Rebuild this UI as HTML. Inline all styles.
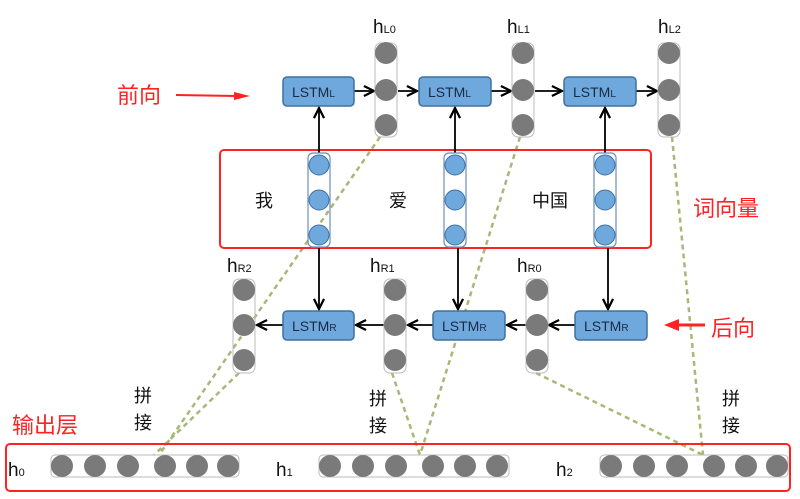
<!DOCTYPE html>
<html><head><meta charset="utf-8"><style>body{margin:0;background:#fff}svg{display:block}text{font-family:"Liberation Sans","Noto Sans CJK SC",sans-serif}</style></head><body>
<svg width="800" height="499" viewBox="0 0 800 499" xmlns="http://www.w3.org/2000/svg">
<defs>
<marker id="ar" viewBox="0 0 10 10" refX="9" refY="5" markerWidth="7" markerHeight="7" orient="auto"><path d="M1,1 L9,5 L1,9" fill="none" stroke="#000" stroke-width="1.8"/></marker>
</defs>
<g stroke="#a8b878" stroke-width="2.5" stroke-dasharray="5,4" fill="none">
<line x1="380" y1="137" x2="159" y2="455"/><line x1="239" y1="373" x2="154" y2="455"/>
<line x1="520" y1="137" x2="420" y2="455"/><line x1="392" y1="373" x2="420" y2="455"/>
<line x1="672" y1="137" x2="703" y2="455"/><line x1="536" y1="373" x2="703" y2="455"/>
</g>
<rect x="220" y="150" width="431" height="98" rx="4" fill="none" stroke="#f22" stroke-width="2"/>
<rect x="6" y="444" width="784" height="47" rx="4" fill="none" stroke="#f22" stroke-width="2"/>
<g stroke="#000" stroke-width="1.8" marker-end="url(#ar)">
<line x1="319" y1="153" x2="319" y2="108"/><line x1="455" y1="153" x2="455" y2="108"/><line x1="605" y1="153" x2="605" y2="108"/>
<line x1="319" y1="248" x2="319" y2="309"/><line x1="458" y1="248" x2="458" y2="309"/><line x1="608" y1="248" x2="608" y2="309"/>
<line x1="354" y1="91" x2="374" y2="91"/><line x1="398" y1="91" x2="417" y2="91"/><line x1="491" y1="91" x2="511" y2="91"/><line x1="535" y1="91" x2="562" y2="91"/><line x1="636" y1="91" x2="657" y2="91"/>
<line x1="575" y1="325" x2="549" y2="325"/><line x1="526" y1="325" x2="507" y2="325"/><line x1="433" y1="325" x2="408" y2="325"/><line x1="384" y1="325" x2="356" y2="325"/><line x1="283" y1="325" x2="257" y2="325"/>
</g>
<g fill="#6fa8dc" stroke="#41719c" stroke-width="1.5">
<rect x="283" y="77" width="71" height="29" rx="4"/><rect x="419" y="77" width="72" height="29" rx="4"/><rect x="564" y="77" width="72" height="29" rx="4"/>
<rect x="283" y="311" width="71" height="29" rx="4"/><rect x="433" y="311" width="72" height="29" rx="4"/><rect x="575" y="311" width="72" height="29" rx="4"/>
</g>
<g font-size="14" fill="#1a2a44">
<text x="292" y="97">LSTM<tspan font-size="10">L</tspan></text><text x="428" y="97">LSTM<tspan font-size="10">L</tspan></text><text x="573" y="97">LSTM<tspan font-size="10">L</tspan></text>
<text x="292" y="331">LSTM<tspan font-size="10">R</tspan></text><text x="442" y="331">LSTM<tspan font-size="10">R</tspan></text><text x="584" y="331">LSTM<tspan font-size="10">R</tspan></text>
</g>
<g fill="none" stroke="#bbb" stroke-width="1">
<rect x="375" y="43" width="22" height="94" rx="6"/><rect x="512" y="43" width="22" height="94" rx="6"/><rect x="658" y="43" width="22" height="94" rx="6"/>
<rect x="233" y="279" width="22" height="94" rx="6"/><rect x="384" y="279" width="22" height="94" rx="6"/><rect x="526" y="279" width="22" height="94" rx="6"/>
<rect x="51" y="455" width="188" height="22" rx="4"/><rect x="319" y="455" width="190" height="22" rx="4"/><rect x="600" y="455" width="188" height="22" rx="4"/>
</g>
<g fill="none" stroke="#6c8ebf" stroke-width="1.2">
<rect x="308" y="153" width="22" height="94" rx="5"/><rect x="444" y="153" width="22" height="94" rx="5"/><rect x="594" y="153" width="22" height="94" rx="5"/>
</g>
<g fill="#7a7a7a">
<circle cx="386" cy="53" r="11"/><circle cx="386" cy="90" r="11"/><circle cx="386" cy="125" r="11"/>
<circle cx="523" cy="53" r="11"/><circle cx="523" cy="90" r="11"/><circle cx="523" cy="125" r="11"/>
<circle cx="669" cy="53" r="11"/><circle cx="669" cy="90" r="11"/><circle cx="669" cy="125" r="11"/>
<circle cx="244" cy="290" r="11"/><circle cx="244" cy="325" r="11"/><circle cx="244" cy="360" r="11"/>
<circle cx="395" cy="290" r="11"/><circle cx="395" cy="325" r="11"/><circle cx="395" cy="360" r="11"/>
<circle cx="537" cy="290" r="11"/><circle cx="537" cy="325" r="11"/><circle cx="537" cy="360" r="11"/>
<circle cx="62" cy="466" r="11"/><circle cx="95" cy="466" r="11"/><circle cx="128" cy="466" r="11"/><circle cx="165" cy="466" r="11"/><circle cx="197" cy="466" r="11"/><circle cx="228" cy="466" r="11"/>
<circle cx="330" cy="466" r="11"/><circle cx="363" cy="466" r="11"/><circle cx="396" cy="466" r="11"/><circle cx="433" cy="466" r="11"/><circle cx="465" cy="466" r="11"/><circle cx="497" cy="466" r="11"/>
<circle cx="611" cy="466" r="11"/><circle cx="644" cy="466" r="11"/><circle cx="677" cy="466" r="11"/><circle cx="714" cy="466" r="11"/><circle cx="746" cy="466" r="11"/><circle cx="777" cy="466" r="11"/>
</g>
<g fill="#6fa8dc" stroke="#41719c" stroke-width="1">
<circle cx="319" cy="165" r="10"/><circle cx="319" cy="200" r="10"/><circle cx="319" cy="235" r="10"/>
<circle cx="455" cy="165" r="10"/><circle cx="455" cy="200" r="10"/><circle cx="455" cy="235" r="10"/>
<circle cx="605" cy="165" r="10"/><circle cx="605" cy="200" r="10"/><circle cx="605" cy="235" r="10"/>
</g>
<g font-size="19" fill="#111">
<text x="373" y="33">h<tspan font-size="11">L0</tspan></text><text x="507" y="33">h<tspan font-size="11">L1</tspan></text><text x="658" y="33">h<tspan font-size="11">L2</tspan></text>
<text x="227" y="272">h<tspan font-size="11">R2</tspan></text><text x="370" y="272">h<tspan font-size="11">R1</tspan></text><text x="517" y="272">h<tspan font-size="11">R0</tspan></text>
<text x="8" y="476">h<tspan font-size="11">0</tspan></text><text x="276" y="476">h<tspan font-size="11">1</tspan></text><text x="556" y="476">h<tspan font-size="11">2</tspan></text>
</g>
<g font-size="18" fill="#111" text-anchor="middle">
<text x="264" y="207">我</text><text x="398" y="207">爱</text><text x="550" y="207">中国</text>
<text x="143" y="402">拼</text><text x="143" y="429">接</text>
<text x="378" y="405">拼</text><text x="378" y="432">接</text>
<text x="731" y="405">拼</text><text x="731" y="432">接</text>
</g>
<g font-size="22" fill="#f22">
<text x="117" y="103">前向</text><text x="711" y="336">后向</text><text x="693" y="216">词向量</text><text x="12" y="433">输出层</text>
</g>
<line x1="176" y1="95" x2="236" y2="96" stroke="#f22" stroke-width="2"/><polygon points="234,92 250,96 234,100" fill="#f22"/>
<line x1="705" y1="325" x2="676" y2="325" stroke="#f22" stroke-width="3"/><polygon points="679,319 664,325 679,331" fill="#f22"/>
</svg>
</body></html>
